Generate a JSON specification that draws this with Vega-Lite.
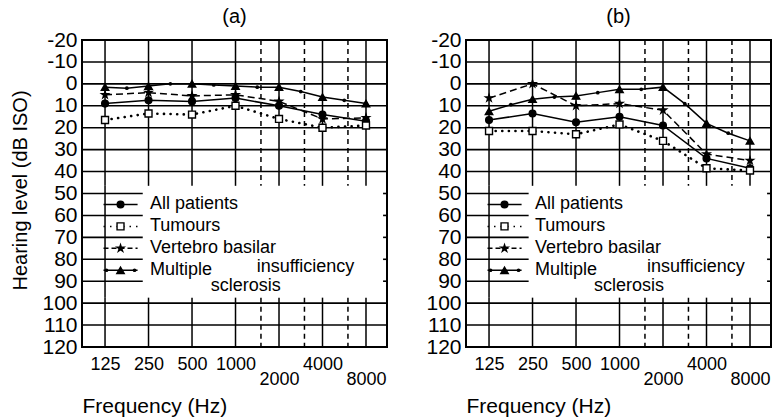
{
 "$schema": "https://vega.github.io/schema/vega-lite/v6.json",
 "padding": {"left": 9, "top": 6, "right": 0, "bottom": 0},
 "background": "white",
 "bounds": "flush",
 "spacing": 79,
 "config": {"view": {"stroke": "black", "strokeWidth": 2}, "font": "Liberation Sans", "axis": {"labelOverlap": false}},
 "datasets": {
  "vgrid": [
   {"f": 125, "line": "solid"}, {"f": 250, "line": "solid"}, {"f": 500, "line": "solid"}, {"f": 1000, "line": "solid"},
   {"f": 1500, "line": "dashed"}, {"f": 2000, "line": "solid"}, {"f": 3000, "line": "dashed"}, {"f": 4000, "line": "solid"},
   {"f": 6000, "line": "dashed"}, {"f": 8000, "line": "solid"}
  ],
  "hgrid": [
   {"db": -20}, {"db": -10}, {"db": 0}, {"db": 10}, {"db": 20}, {"db": 30}, {"db": 40}, {"db": 50},
   {"db": 60}, {"db": 70}, {"db": 80}, {"db": 90}, {"db": 100}, {"db": 110}, {"db": 120}
  ],
  "legend": [
   {"series": "All patients", "label": "All patients", "level": 55},
   {"series": "Tumours", "label": "Tumours", "level": 65},
   {"series": "Vertebro basilar", "label": "Vertebro basilar", "level": 75},
   {"series": "Multiple sclerosis", "label": "Multiple", "level": 85}
  ],
  "series": [
   {"panel": "a", "series": "All patients", "kind": "main", "f": 125, "db": 9},
   {"panel": "a", "series": "All patients", "kind": "main", "f": 250, "db": 7.5},
   {"panel": "a", "series": "All patients", "kind": "main", "f": 500, "db": 8},
   {"panel": "a", "series": "All patients", "kind": "main", "f": 1000, "db": 6.5},
   {"panel": "a", "series": "All patients", "kind": "main", "f": 2000, "db": 10},
   {"panel": "a", "series": "All patients", "kind": "main", "f": 4000, "db": 14},
   {"panel": "a", "series": "All patients", "kind": "main", "f": 8000, "db": 17},
   {"panel": "a", "series": "Tumours", "kind": "main", "f": 125, "db": 16.5},
   {"panel": "a", "series": "Tumours", "kind": "main", "f": 250, "db": 13.5},
   {"panel": "a", "series": "Tumours", "kind": "main", "f": 500, "db": 14},
   {"panel": "a", "series": "Tumours", "kind": "main", "f": 1000, "db": 10},
   {"panel": "a", "series": "Tumours", "kind": "main", "f": 2000, "db": 16},
   {"panel": "a", "series": "Tumours", "kind": "main", "f": 4000, "db": 20},
   {"panel": "a", "series": "Tumours", "kind": "main", "f": 8000, "db": 19},
   {"panel": "a", "series": "Vertebro basilar", "kind": "main", "f": 125, "db": 5},
   {"panel": "a", "series": "Vertebro basilar", "kind": "main", "f": 250, "db": 4},
   {"panel": "a", "series": "Vertebro basilar", "kind": "main", "f": 500, "db": 5.5},
   {"panel": "a", "series": "Vertebro basilar", "kind": "main", "f": 1000, "db": 5},
   {"panel": "a", "series": "Vertebro basilar", "kind": "main", "f": 2000, "db": 8},
   {"panel": "a", "series": "Vertebro basilar", "kind": "main", "f": 4000, "db": 16},
   {"panel": "a", "series": "Vertebro basilar", "kind": "main", "f": 8000, "db": 15.5},
   {"panel": "a", "series": "Multiple sclerosis", "kind": "main", "f": 125, "db": 1.5},
   {"panel": "a", "series": "Multiple sclerosis", "kind": "mid", "f": 177, "db": 2},
   {"panel": "a", "series": "Multiple sclerosis", "kind": "main", "f": 250, "db": 1},
   {"panel": "a", "series": "Multiple sclerosis", "kind": "mid", "f": 354, "db": 0},
   {"panel": "a", "series": "Multiple sclerosis", "kind": "main", "f": 500, "db": 0},
   {"panel": "a", "series": "Multiple sclerosis", "kind": "mid", "f": 707, "db": 0.5},
   {"panel": "a", "series": "Multiple sclerosis", "kind": "main", "f": 1000, "db": 1},
   {"panel": "a", "series": "Multiple sclerosis", "kind": "mid", "f": 1414, "db": 1.5},
   {"panel": "a", "series": "Multiple sclerosis", "kind": "main", "f": 2000, "db": 1.5},
   {"panel": "a", "series": "Multiple sclerosis", "kind": "mid", "f": 2828, "db": 3.5},
   {"panel": "a", "series": "Multiple sclerosis", "kind": "main", "f": 4000, "db": 6},
   {"panel": "a", "series": "Multiple sclerosis", "kind": "mid", "f": 5657, "db": 7.5},
   {"panel": "a", "series": "Multiple sclerosis", "kind": "main", "f": 8000, "db": 9},
   {"panel": "b", "series": "All patients", "kind": "main", "f": 125, "db": 16.5},
   {"panel": "b", "series": "All patients", "kind": "main", "f": 250, "db": 13.5},
   {"panel": "b", "series": "All patients", "kind": "main", "f": 500, "db": 17.5},
   {"panel": "b", "series": "All patients", "kind": "main", "f": 1000, "db": 15},
   {"panel": "b", "series": "All patients", "kind": "main", "f": 2000, "db": 19},
   {"panel": "b", "series": "All patients", "kind": "main", "f": 4000, "db": 34},
   {"panel": "b", "series": "All patients", "kind": "main", "f": 8000, "db": 38.5},
   {"panel": "b", "series": "Tumours", "kind": "main", "f": 125, "db": 21.5},
   {"panel": "b", "series": "Tumours", "kind": "main", "f": 250, "db": 21.5},
   {"panel": "b", "series": "Tumours", "kind": "main", "f": 500, "db": 23},
   {"panel": "b", "series": "Tumours", "kind": "main", "f": 1000, "db": 18.5},
   {"panel": "b", "series": "Tumours", "kind": "main", "f": 2000, "db": 26},
   {"panel": "b", "series": "Tumours", "kind": "main", "f": 4000, "db": 38.5},
   {"panel": "b", "series": "Tumours", "kind": "main", "f": 8000, "db": 39.5},
   {"panel": "b", "series": "Vertebro basilar", "kind": "main", "f": 125, "db": 6.5},
   {"panel": "b", "series": "Vertebro basilar", "kind": "main", "f": 250, "db": 0},
   {"panel": "b", "series": "Vertebro basilar", "kind": "main", "f": 500, "db": 10},
   {"panel": "b", "series": "Vertebro basilar", "kind": "main", "f": 1000, "db": 9},
   {"panel": "b", "series": "Vertebro basilar", "kind": "main", "f": 2000, "db": 12},
   {"panel": "b", "series": "Vertebro basilar", "kind": "main", "f": 4000, "db": 32},
   {"panel": "b", "series": "Vertebro basilar", "kind": "main", "f": 8000, "db": 35},
   {"panel": "b", "series": "Multiple sclerosis", "kind": "main", "f": 125, "db": 12.5},
   {"panel": "b", "series": "Multiple sclerosis", "kind": "mid", "f": 177, "db": 9.5},
   {"panel": "b", "series": "Multiple sclerosis", "kind": "main", "f": 250, "db": 7},
   {"panel": "b", "series": "Multiple sclerosis", "kind": "mid", "f": 354, "db": 6},
   {"panel": "b", "series": "Multiple sclerosis", "kind": "main", "f": 500, "db": 5.5},
   {"panel": "b", "series": "Multiple sclerosis", "kind": "mid", "f": 707, "db": 4},
   {"panel": "b", "series": "Multiple sclerosis", "kind": "main", "f": 1000, "db": 2.5},
   {"panel": "b", "series": "Multiple sclerosis", "kind": "mid", "f": 1414, "db": 2.5},
   {"panel": "b", "series": "Multiple sclerosis", "kind": "main", "f": 2000, "db": 1.5},
   {"panel": "b", "series": "Multiple sclerosis", "kind": "mid", "f": 2828, "db": 9},
   {"panel": "b", "series": "Multiple sclerosis", "kind": "main", "f": 4000, "db": 18},
   {"panel": "b", "series": "Multiple sclerosis", "kind": "mid", "f": 5657, "db": 22.5},
   {"panel": "b", "series": "Multiple sclerosis", "kind": "main", "f": 8000, "db": 26}
  ]
 },
 "hconcat": [
  {
   "width": 305, "height": 307,
   "title": {"text": "(a)", "fontSize": 20, "fontWeight": "normal", "font": "Liberation Sans", "baseline": "bottom", "offset": -18, "color": "black"},
   "layer": [
    {"data": {"name": "hgrid"}, "transform": [{"filter": "datum.db <= 40 || datum.db >= 100"}],
     "mark": {"type": "rule", "strokeWidth": 1.6, "color": "black"},
     "encoding": {
      "y": {"field": "db", "type": "quantitative", "scale": {"domain": [-20, 120], "reverse": true, "nice": false, "zero": false},
       "axis": {"values": [-20, -10, 0, 10, 20, 30, 40, 50, 60, 70, 80, 90, 100, 110, 120], "tickCount": 15, "labelExpr": "'' + datum.value", "grid": false, "ticks": false, "domain": false, "labelFont": "Liberation Sans", "labelFontSize": 21, "labelColor": "black", "labelPadding": 5, "labelOverlap": false, "labelFlush": false, "labelBound": false, "title": "Hearing level (dB ISO)", "titleFont": "Liberation Sans", "titleFontSize": 20, "titleFontWeight": "normal", "titleColor": "black", "titleAngle": -90, "titleX": -56, "titleY": 150, "titleAlign": "center", "titleBaseline": "alphabetic"}},
      "x": {"datum": 86.6, "type": "quantitative", "scale": {"type": "log", "base": 2, "domain": [86.6, 11180], "nice": false}},
      "x2": {"datum": 11180}
     }},
    {"data": {"name": "vgrid"}, "transform": [{"filter": "datum.line == 'solid'"}],
     "mark": {"type": "rule", "strokeWidth": 1.5, "color": "black"},
     "encoding": {
      "x": {"field": "f", "type": "quantitative", "scale": {"type": "log", "base": 2, "domain": [86.6, 11180], "nice": false},
       "axis": {"values": [125, 250, 500, 1000, 2000, 4000, 8000], "labelExpr": "(datum.value == 2000 || datum.value == 8000) ? ['', '' + datum.value] : '' + datum.value", "grid": false, "ticks": false, "domain": false, "labelFont": "Liberation Sans", "labelFontSize": 18, "labelColor": "black", "labelPadding": 8, "labelLineHeight": 15, "labelOverlap": false, "labelFlush": false, "labelBound": false, "labelBaseline": "top", "title": "Frequency (Hz)", "titleFont": "Liberation Sans", "titleFontSize": 21, "titleFontWeight": "normal", "titleColor": "black", "titleAnchor": "start", "titleAlign": "left", "titleX": 0, "titleY": 65, "titleBaseline": "alphabetic"}},
      "y": {"datum": -20, "type": "quantitative", "scale": {"domain": [-20, 120], "reverse": true, "nice": false, "zero": false}},
      "y2": {"datum": 46.5}
     }},
    {"data": {"name": "vgrid"}, "transform": [{"filter": "datum.line == 'solid'"}],
     "mark": {"type": "rule", "strokeWidth": 1.5, "color": "black"},
     "encoding": {
      "x": {"field": "f", "type": "quantitative", "scale": {"type": "log", "base": 2, "domain": [86.6, 11180], "nice": false}},
      "y": {"datum": 97.5, "type": "quantitative", "scale": {"domain": [-20, 120], "reverse": true, "nice": false, "zero": false}},
      "y2": {"datum": 120}
     }},
    {"data": {"name": "vgrid"}, "transform": [{"filter": "datum.line == 'dashed'"}],
     "mark": {"type": "rule", "strokeWidth": 1.5, "color": "black", "strokeDash": [5, 4]},
     "encoding": {
      "x": {"field": "f", "type": "quantitative", "scale": {"type": "log", "base": 2, "domain": [86.6, 11180], "nice": false}},
      "y": {"datum": -20, "type": "quantitative", "scale": {"domain": [-20, 120], "reverse": true, "nice": false, "zero": false}},
      "y2": {"datum": 46.5}
     }},
    {"data": {"name": "vgrid"}, "transform": [{"filter": "datum.line == 'dashed'"}],
     "mark": {"type": "rule", "strokeWidth": 1.5, "color": "black", "strokeDash": [5, 4]},
     "encoding": {
      "x": {"field": "f", "type": "quantitative", "scale": {"type": "log", "base": 2, "domain": [86.6, 11180], "nice": false}},
      "y": {"datum": 97.5, "type": "quantitative", "scale": {"domain": [-20, 120], "reverse": true, "nice": false, "zero": false}},
      "y2": {"datum": 120}
     }},
    {"data": {"name": "vgrid"}, "transform": [{"filter": "datum.f == 125"}],
     "mark": {"type": "rule", "strokeWidth": 1.5, "color": "black"},
     "encoding": {
      "x": {"field": "f", "type": "quantitative", "scale": {"type": "log", "base": 2, "domain": [86.6, 11180], "nice": false}},
      "y": {"datum": 46.5, "type": "quantitative", "scale": {"domain": [-20, 120], "reverse": true, "nice": false, "zero": false}},
      "y2": {"datum": 97.5}
     }},
    {"data": {"name": "hgrid"}, "transform": [{"filter": "datum.db >= 50 && datum.db <= 90"}],
     "mark": {"type": "rule", "strokeWidth": 1.6, "color": "black"},
     "encoding": {
      "y": {"field": "db", "type": "quantitative", "scale": {"domain": [-20, 120], "reverse": true, "nice": false, "zero": false}},
      "x": {"datum": 86.6, "type": "quantitative", "scale": {"type": "log", "base": 2, "domain": [86.6, 11180], "nice": false}},
      "x2": {"datum": 228}
     }},
    {"data": {"name": "hgrid"}, "transform": [{"filter": "datum.db >= 50 && datum.db <= 90"}],
     "mark": {"type": "rule", "strokeWidth": 1.6, "color": "black"},
     "encoding": {
      "y": {"field": "db", "type": "quantitative", "scale": {"domain": [-20, 120], "reverse": true, "nice": false, "zero": false}},
      "x": {"datum": 10500, "type": "quantitative", "scale": {"type": "log", "base": 2, "domain": [86.6, 11180], "nice": false}},
      "x2": {"datum": 11180}
     }},
    {"data": {"name": "series"}, "transform": [{"filter": "datum.panel == 'a' && (datum.series == 'All patients' || datum.series == 'Multiple sclerosis')"}],
     "mark": {"type": "line", "color": "black", "strokeWidth": 1.5},
     "encoding": {
      "x": {"field": "f", "type": "quantitative", "scale": {"type": "log", "base": 2, "domain": [86.6, 11180], "nice": false}},
      "y": {"field": "db", "type": "quantitative", "scale": {"domain": [-20, 120], "reverse": true, "nice": false, "zero": false}},
      "detail": {"field": "series"}, "order": {"field": "f"}
     }},
    {"data": {"name": "series"}, "transform": [{"filter": "datum.panel == 'a' && datum.series == 'Vertebro basilar'"}],
     "mark": {"type": "line", "color": "black", "strokeWidth": 1.5, "strokeDash": [7, 4]},
     "encoding": {
      "x": {"field": "f", "type": "quantitative", "scale": {"type": "log", "base": 2, "domain": [86.6, 11180], "nice": false}},
      "y": {"field": "db", "type": "quantitative", "scale": {"domain": [-20, 120], "reverse": true, "nice": false, "zero": false}},
      "order": {"field": "f"}
     }},
    {"data": {"name": "series"}, "transform": [{"filter": "datum.panel == 'a' && datum.series == 'Tumours'"}],
     "mark": {"type": "line", "color": "black", "strokeWidth": 2.6, "strokeDash": [0.1, 6.5], "strokeCap": "round"},
     "encoding": {
      "x": {"field": "f", "type": "quantitative", "scale": {"type": "log", "base": 2, "domain": [86.6, 11180], "nice": false}},
      "y": {"field": "db", "type": "quantitative", "scale": {"domain": [-20, 120], "reverse": true, "nice": false, "zero": false}},
      "order": {"field": "f"}
     }},
    {"data": {"name": "series"}, "transform": [{"filter": "datum.panel == 'a' && datum.kind == 'mid'"}],
     "mark": {"type": "point", "shape": "circle", "filled": true, "color": "black", "size": 14, "opacity": 1},
     "encoding": {
      "x": {"field": "f", "type": "quantitative", "scale": {"type": "log", "base": 2, "domain": [86.6, 11180], "nice": false}},
      "y": {"field": "db", "type": "quantitative", "scale": {"domain": [-20, 120], "reverse": true, "nice": false, "zero": false}}
     }},
    {"data": {"name": "series"}, "transform": [{"filter": "datum.panel == 'a' && datum.kind == 'main'"}],
     "mark": {"type": "point", "filled": true, "stroke": "black", "strokeWidth": 1.4, "opacity": 1},
     "encoding": {
      "x": {"field": "f", "type": "quantitative", "scale": {"type": "log", "base": 2, "domain": [86.6, 11180], "nice": false}},
      "y": {"field": "db", "type": "quantitative", "scale": {"domain": [-20, 120], "reverse": true, "nice": false, "zero": false}},
      "shape": {"field": "series", "type": "nominal", "scale": {"domain": ["All patients", "Tumours", "Vertebro basilar", "Multiple sclerosis"], "range": ["circle", "square", "M0,-1L0.224,-0.309L0.951,-0.309L0.363,0.118L0.588,0.809L0,0.382L-0.588,0.809L-0.363,0.118L-0.951,-0.309L-0.224,-0.309Z", "triangle-up"]}, "legend": null},
      "fill": {"field": "series", "type": "nominal", "scale": {"domain": ["All patients", "Tumours", "Vertebro basilar", "Multiple sclerosis"], "range": ["black", "white", "black", "black"]}, "legend": null},
      "size": {"field": "series", "type": "nominal", "scale": {"domain": ["All patients", "Tumours", "Vertebro basilar", "Multiple sclerosis"], "range": [45, 55, 80, 55]}, "legend": null}
     }},
    {"data": {"name": "legend"},
     "mark": {"type": "rule", "color": "black", "strokeWidth": 1.5},
     "encoding": {
      "x": {"datum": 122, "type": "quantitative", "scale": {"type": "log", "base": 2, "domain": [86.6, 11180], "nice": false}},
      "x2": {"datum": 210},
      "y": {"field": "level", "type": "quantitative", "scale": {"domain": [-20, 120], "reverse": true, "nice": false, "zero": false}},
      "strokeDash": {"field": "series", "type": "nominal", "scale": {"domain": ["All patients", "Tumours", "Vertebro basilar", "Multiple sclerosis"], "range": [[1, 0], [1.5, 5], [5, 3], [1, 0]]}, "legend": null}
     }},
    {"data": {"name": "legend"}, "transform": [{"filter": "datum.series == 'Multiple sclerosis'"}],
     "mark": {"type": "point", "shape": "circle", "filled": true, "color": "black", "size": 14, "opacity": 1},
     "encoding": {
      "x": {"datum": 128, "type": "quantitative", "scale": {"type": "log", "base": 2, "domain": [86.6, 11180], "nice": false}},
      "y": {"field": "level", "type": "quantitative", "scale": {"domain": [-20, 120], "reverse": true, "nice": false, "zero": false}}
     }},
    {"data": {"name": "legend"}, "transform": [{"filter": "datum.series == 'Multiple sclerosis'"}],
     "mark": {"type": "point", "shape": "circle", "filled": true, "color": "black", "size": 14, "opacity": 1},
     "encoding": {
      "x": {"datum": 200, "type": "quantitative", "scale": {"type": "log", "base": 2, "domain": [86.6, 11180], "nice": false}},
      "y": {"field": "level", "type": "quantitative", "scale": {"domain": [-20, 120], "reverse": true, "nice": false, "zero": false}}
     }},
    {"data": {"name": "legend"},
     "mark": {"type": "point", "filled": true, "stroke": "black", "strokeWidth": 1.4, "opacity": 1},
     "encoding": {
      "x": {"datum": 160, "type": "quantitative", "scale": {"type": "log", "base": 2, "domain": [86.6, 11180], "nice": false}},
      "y": {"field": "level", "type": "quantitative", "scale": {"domain": [-20, 120], "reverse": true, "nice": false, "zero": false}},
      "shape": {"field": "series", "type": "nominal", "scale": {"domain": ["All patients", "Tumours", "Vertebro basilar", "Multiple sclerosis"], "range": ["circle", "square", "M0,-1L0.224,-0.309L0.951,-0.309L0.363,0.118L0.588,0.809L0,0.382L-0.588,0.809L-0.363,0.118L-0.951,-0.309L-0.224,-0.309Z", "triangle-up"]}, "legend": null},
      "fill": {"field": "series", "type": "nominal", "scale": {"domain": ["All patients", "Tumours", "Vertebro basilar", "Multiple sclerosis"], "range": ["black", "white", "black", "black"]}, "legend": null},
      "size": {"field": "series", "type": "nominal", "scale": {"domain": ["All patients", "Tumours", "Vertebro basilar", "Multiple sclerosis"], "range": [45, 55, 80, 55]}, "legend": null}
     }},
    {"data": {"name": "legend"},
     "mark": {"type": "text", "align": "left", "baseline": "middle", "font": "Liberation Sans", "fontSize": 18, "color": "black"},
     "encoding": {
      "x": {"datum": 256, "type": "quantitative", "scale": {"type": "log", "base": 2, "domain": [86.6, 11180], "nice": false}},
      "y": {"field": "level", "type": "quantitative", "scale": {"domain": [-20, 120], "reverse": true, "nice": false, "zero": false}},
      "text": {"field": "label"}
     }},
    {"data": {"values": [{"note": "insufficiency"}]},
     "mark": {"type": "text", "align": "left", "baseline": "middle", "font": "Liberation Sans", "fontSize": 18, "color": "black"},
     "encoding": {
      "x": {"datum": 1400, "type": "quantitative", "scale": {"type": "log", "base": 2, "domain": [86.6, 11180], "nice": false}},
      "y": {"datum": 83.5, "type": "quantitative", "scale": {"domain": [-20, 120], "reverse": true, "nice": false, "zero": false}},
      "text": {"field": "note"}
     }},
    {"data": {"values": [{"note": "sclerosis"}]},
     "mark": {"type": "text", "align": "left", "baseline": "middle", "font": "Liberation Sans", "fontSize": 18, "color": "black"},
     "encoding": {
      "x": {"datum": 675, "type": "quantitative", "scale": {"type": "log", "base": 2, "domain": [86.6, 11180], "nice": false}},
      "y": {"datum": 92, "type": "quantitative", "scale": {"domain": [-20, 120], "reverse": true, "nice": false, "zero": false}},
      "text": {"field": "note"}
     }}
   ]
  },
  {
   "width": 305, "height": 307,
   "title": {"text": "(b)", "fontSize": 20, "fontWeight": "normal", "font": "Liberation Sans", "baseline": "bottom", "offset": -18, "color": "black"},
   "layer": [
    {"data": {"name": "hgrid"}, "transform": [{"filter": "datum.db <= 40 || datum.db >= 100"}],
     "mark": {"type": "rule", "strokeWidth": 1.6, "color": "black"},
     "encoding": {
      "y": {"field": "db", "type": "quantitative", "scale": {"domain": [-20, 120], "reverse": true, "nice": false, "zero": false},
       "axis": {"values": [-20, -10, 0, 10, 20, 30, 40, 50, 60, 70, 80, 90, 100, 110, 120], "tickCount": 15, "labelExpr": "'' + datum.value", "grid": false, "ticks": false, "domain": false, "labelFont": "Liberation Sans", "labelFontSize": 21, "labelColor": "black", "labelPadding": 5, "labelOverlap": false, "labelFlush": false, "labelBound": false, "title": null}},
      "x": {"datum": 86.6, "type": "quantitative", "scale": {"type": "log", "base": 2, "domain": [86.6, 11180], "nice": false}},
      "x2": {"datum": 11180}
     }},
    {"data": {"name": "vgrid"}, "transform": [{"filter": "datum.line == 'solid'"}],
     "mark": {"type": "rule", "strokeWidth": 1.5, "color": "black"},
     "encoding": {
      "x": {"field": "f", "type": "quantitative", "scale": {"type": "log", "base": 2, "domain": [86.6, 11180], "nice": false},
       "axis": {"values": [125, 250, 500, 1000, 2000, 4000, 8000], "labelExpr": "(datum.value == 2000 || datum.value == 8000) ? ['', '' + datum.value] : '' + datum.value", "grid": false, "ticks": false, "domain": false, "labelFont": "Liberation Sans", "labelFontSize": 18, "labelColor": "black", "labelPadding": 8, "labelLineHeight": 15, "labelOverlap": false, "labelFlush": false, "labelBound": false, "labelBaseline": "top", "title": "Frequency (Hz)", "titleFont": "Liberation Sans", "titleFontSize": 21, "titleFontWeight": "normal", "titleColor": "black", "titleAnchor": "start", "titleAlign": "left", "titleX": 0, "titleY": 65, "titleBaseline": "alphabetic"}},
      "y": {"datum": -20, "type": "quantitative", "scale": {"domain": [-20, 120], "reverse": true, "nice": false, "zero": false}},
      "y2": {"datum": 46.5}
     }},
    {"data": {"name": "vgrid"}, "transform": [{"filter": "datum.line == 'solid'"}],
     "mark": {"type": "rule", "strokeWidth": 1.5, "color": "black"},
     "encoding": {
      "x": {"field": "f", "type": "quantitative", "scale": {"type": "log", "base": 2, "domain": [86.6, 11180], "nice": false}},
      "y": {"datum": 97.5, "type": "quantitative", "scale": {"domain": [-20, 120], "reverse": true, "nice": false, "zero": false}},
      "y2": {"datum": 120}
     }},
    {"data": {"name": "vgrid"}, "transform": [{"filter": "datum.line == 'dashed'"}],
     "mark": {"type": "rule", "strokeWidth": 1.5, "color": "black", "strokeDash": [5, 4]},
     "encoding": {
      "x": {"field": "f", "type": "quantitative", "scale": {"type": "log", "base": 2, "domain": [86.6, 11180], "nice": false}},
      "y": {"datum": -20, "type": "quantitative", "scale": {"domain": [-20, 120], "reverse": true, "nice": false, "zero": false}},
      "y2": {"datum": 46.5}
     }},
    {"data": {"name": "vgrid"}, "transform": [{"filter": "datum.line == 'dashed'"}],
     "mark": {"type": "rule", "strokeWidth": 1.5, "color": "black", "strokeDash": [5, 4]},
     "encoding": {
      "x": {"field": "f", "type": "quantitative", "scale": {"type": "log", "base": 2, "domain": [86.6, 11180], "nice": false}},
      "y": {"datum": 97.5, "type": "quantitative", "scale": {"domain": [-20, 120], "reverse": true, "nice": false, "zero": false}},
      "y2": {"datum": 120}
     }},
    {"data": {"name": "vgrid"}, "transform": [{"filter": "datum.f == 125"}],
     "mark": {"type": "rule", "strokeWidth": 1.5, "color": "black"},
     "encoding": {
      "x": {"field": "f", "type": "quantitative", "scale": {"type": "log", "base": 2, "domain": [86.6, 11180], "nice": false}},
      "y": {"datum": 46.5, "type": "quantitative", "scale": {"domain": [-20, 120], "reverse": true, "nice": false, "zero": false}},
      "y2": {"datum": 97.5}
     }},
    {"data": {"name": "hgrid"}, "transform": [{"filter": "datum.db >= 50 && datum.db <= 90"}],
     "mark": {"type": "rule", "strokeWidth": 1.6, "color": "black"},
     "encoding": {
      "y": {"field": "db", "type": "quantitative", "scale": {"domain": [-20, 120], "reverse": true, "nice": false, "zero": false}},
      "x": {"datum": 86.6, "type": "quantitative", "scale": {"type": "log", "base": 2, "domain": [86.6, 11180], "nice": false}},
      "x2": {"datum": 235}
     }},
    {"data": {"name": "hgrid"}, "transform": [{"filter": "datum.db >= 50 && datum.db <= 90"}],
     "mark": {"type": "rule", "strokeWidth": 1.6, "color": "black"},
     "encoding": {
      "y": {"field": "db", "type": "quantitative", "scale": {"domain": [-20, 120], "reverse": true, "nice": false, "zero": false}},
      "x": {"datum": 10500, "type": "quantitative", "scale": {"type": "log", "base": 2, "domain": [86.6, 11180], "nice": false}},
      "x2": {"datum": 11180}
     }},
    {"data": {"name": "series"}, "transform": [{"filter": "datum.panel == 'b' && (datum.series == 'All patients' || datum.series == 'Multiple sclerosis')"}],
     "mark": {"type": "line", "color": "black", "strokeWidth": 1.5},
     "encoding": {
      "x": {"field": "f", "type": "quantitative", "scale": {"type": "log", "base": 2, "domain": [86.6, 11180], "nice": false}},
      "y": {"field": "db", "type": "quantitative", "scale": {"domain": [-20, 120], "reverse": true, "nice": false, "zero": false}},
      "detail": {"field": "series"}, "order": {"field": "f"}
     }},
    {"data": {"name": "series"}, "transform": [{"filter": "datum.panel == 'b' && datum.series == 'Vertebro basilar'"}],
     "mark": {"type": "line", "color": "black", "strokeWidth": 1.5, "strokeDash": [7, 4]},
     "encoding": {
      "x": {"field": "f", "type": "quantitative", "scale": {"type": "log", "base": 2, "domain": [86.6, 11180], "nice": false}},
      "y": {"field": "db", "type": "quantitative", "scale": {"domain": [-20, 120], "reverse": true, "nice": false, "zero": false}},
      "order": {"field": "f"}
     }},
    {"data": {"name": "series"}, "transform": [{"filter": "datum.panel == 'b' && datum.series == 'Tumours'"}],
     "mark": {"type": "line", "color": "black", "strokeWidth": 2.6, "strokeDash": [0.1, 6.5], "strokeCap": "round"},
     "encoding": {
      "x": {"field": "f", "type": "quantitative", "scale": {"type": "log", "base": 2, "domain": [86.6, 11180], "nice": false}},
      "y": {"field": "db", "type": "quantitative", "scale": {"domain": [-20, 120], "reverse": true, "nice": false, "zero": false}},
      "order": {"field": "f"}
     }},
    {"data": {"name": "series"}, "transform": [{"filter": "datum.panel == 'b' && datum.kind == 'mid'"}],
     "mark": {"type": "point", "shape": "circle", "filled": true, "color": "black", "size": 14, "opacity": 1},
     "encoding": {
      "x": {"field": "f", "type": "quantitative", "scale": {"type": "log", "base": 2, "domain": [86.6, 11180], "nice": false}},
      "y": {"field": "db", "type": "quantitative", "scale": {"domain": [-20, 120], "reverse": true, "nice": false, "zero": false}}
     }},
    {"data": {"name": "series"}, "transform": [{"filter": "datum.panel == 'b' && datum.kind == 'main'"}],
     "mark": {"type": "point", "filled": true, "stroke": "black", "strokeWidth": 1.4, "opacity": 1},
     "encoding": {
      "x": {"field": "f", "type": "quantitative", "scale": {"type": "log", "base": 2, "domain": [86.6, 11180], "nice": false}},
      "y": {"field": "db", "type": "quantitative", "scale": {"domain": [-20, 120], "reverse": true, "nice": false, "zero": false}},
      "shape": {"field": "series", "type": "nominal", "scale": {"domain": ["All patients", "Tumours", "Vertebro basilar", "Multiple sclerosis"], "range": ["circle", "square", "M0,-1L0.224,-0.309L0.951,-0.309L0.363,0.118L0.588,0.809L0,0.382L-0.588,0.809L-0.363,0.118L-0.951,-0.309L-0.224,-0.309Z", "triangle-up"]}, "legend": null},
      "fill": {"field": "series", "type": "nominal", "scale": {"domain": ["All patients", "Tumours", "Vertebro basilar", "Multiple sclerosis"], "range": ["black", "white", "black", "black"]}, "legend": null},
      "size": {"field": "series", "type": "nominal", "scale": {"domain": ["All patients", "Tumours", "Vertebro basilar", "Multiple sclerosis"], "range": [45, 55, 80, 55]}, "legend": null}
     }},
    {"data": {"name": "legend"},
     "mark": {"type": "rule", "color": "black", "strokeWidth": 1.5},
     "encoding": {
      "x": {"datum": 122, "type": "quantitative", "scale": {"type": "log", "base": 2, "domain": [86.6, 11180], "nice": false}},
      "x2": {"datum": 210},
      "y": {"field": "level", "type": "quantitative", "scale": {"domain": [-20, 120], "reverse": true, "nice": false, "zero": false}},
      "strokeDash": {"field": "series", "type": "nominal", "scale": {"domain": ["All patients", "Tumours", "Vertebro basilar", "Multiple sclerosis"], "range": [[1, 0], [1.5, 5], [5, 3], [1, 0]]}, "legend": null}
     }},
    {"data": {"name": "legend"}, "transform": [{"filter": "datum.series == 'Multiple sclerosis'"}],
     "mark": {"type": "point", "shape": "circle", "filled": true, "color": "black", "size": 14, "opacity": 1},
     "encoding": {
      "x": {"datum": 128, "type": "quantitative", "scale": {"type": "log", "base": 2, "domain": [86.6, 11180], "nice": false}},
      "y": {"field": "level", "type": "quantitative", "scale": {"domain": [-20, 120], "reverse": true, "nice": false, "zero": false}}
     }},
    {"data": {"name": "legend"}, "transform": [{"filter": "datum.series == 'Multiple sclerosis'"}],
     "mark": {"type": "point", "shape": "circle", "filled": true, "color": "black", "size": 14, "opacity": 1},
     "encoding": {
      "x": {"datum": 200, "type": "quantitative", "scale": {"type": "log", "base": 2, "domain": [86.6, 11180], "nice": false}},
      "y": {"field": "level", "type": "quantitative", "scale": {"domain": [-20, 120], "reverse": true, "nice": false, "zero": false}}
     }},
    {"data": {"name": "legend"},
     "mark": {"type": "point", "filled": true, "stroke": "black", "strokeWidth": 1.4, "opacity": 1},
     "encoding": {
      "x": {"datum": 160, "type": "quantitative", "scale": {"type": "log", "base": 2, "domain": [86.6, 11180], "nice": false}},
      "y": {"field": "level", "type": "quantitative", "scale": {"domain": [-20, 120], "reverse": true, "nice": false, "zero": false}},
      "shape": {"field": "series", "type": "nominal", "scale": {"domain": ["All patients", "Tumours", "Vertebro basilar", "Multiple sclerosis"], "range": ["circle", "square", "M0,-1L0.224,-0.309L0.951,-0.309L0.363,0.118L0.588,0.809L0,0.382L-0.588,0.809L-0.363,0.118L-0.951,-0.309L-0.224,-0.309Z", "triangle-up"]}, "legend": null},
      "fill": {"field": "series", "type": "nominal", "scale": {"domain": ["All patients", "Tumours", "Vertebro basilar", "Multiple sclerosis"], "range": ["black", "white", "black", "black"]}, "legend": null},
      "size": {"field": "series", "type": "nominal", "scale": {"domain": ["All patients", "Tumours", "Vertebro basilar", "Multiple sclerosis"], "range": [45, 55, 80, 55]}, "legend": null}
     }},
    {"data": {"name": "legend"},
     "mark": {"type": "text", "align": "left", "baseline": "middle", "font": "Liberation Sans", "fontSize": 18, "color": "black"},
     "encoding": {
      "x": {"datum": 260, "type": "quantitative", "scale": {"type": "log", "base": 2, "domain": [86.6, 11180], "nice": false}},
      "y": {"field": "level", "type": "quantitative", "scale": {"domain": [-20, 120], "reverse": true, "nice": false, "zero": false}},
      "text": {"field": "label"}
     }},
    {"data": {"values": [{"note": "insufficiency"}]},
     "mark": {"type": "text", "align": "left", "baseline": "middle", "font": "Liberation Sans", "fontSize": 18, "color": "black"},
     "encoding": {
      "x": {"datum": 1550, "type": "quantitative", "scale": {"type": "log", "base": 2, "domain": [86.6, 11180], "nice": false}},
      "y": {"datum": 83.5, "type": "quantitative", "scale": {"domain": [-20, 120], "reverse": true, "nice": false, "zero": false}},
      "text": {"field": "note"}
     }},
    {"data": {"values": [{"note": "sclerosis"}]},
     "mark": {"type": "text", "align": "left", "baseline": "middle", "font": "Liberation Sans", "fontSize": 18, "color": "black"},
     "encoding": {
      "x": {"datum": 665, "type": "quantitative", "scale": {"type": "log", "base": 2, "domain": [86.6, 11180], "nice": false}},
      "y": {"datum": 92, "type": "quantitative", "scale": {"domain": [-20, 120], "reverse": true, "nice": false, "zero": false}},
      "text": {"field": "note"}
     }}
   ]
  }
 ]
}
